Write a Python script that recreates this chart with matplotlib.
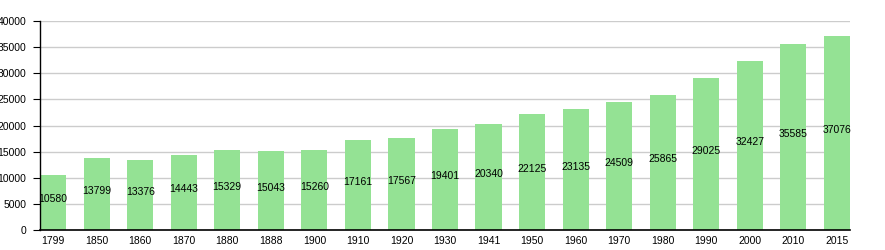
import matplotlib.pyplot as plt
import numpy as np

years = ["1799", "1850", "1860", "1870", "1880", "1888", "1900", "1910", "1920", "1930",
         "1941", "1950", "1960", "1970", "1980", "1990", "2000", "2010", "2015"]
population = [10580, 13799, 13376, 14443, 15329, 15043, 15260, 17161, 17567, 19401,
              20340, 22125, 23135, 24509, 25865, 29025, 32427, 35585, 37076]
y_ticks = [0, 5000, 10000, 15000, 20000, 25000, 30000, 35000, 40000]

plt.rcParams['font.family'] = ['Liberation Sans', 'DejaVu Sans']

fig = plt.figure(figsize=(8.85, 2.5), dpi=100)
ax = fig.add_axes([40 / 885, 20 / 250, 810 / 885, 209 / 250])

x = np.arange(len(years))
ax.bar(x, population, width=0.6, color="#94e294", zorder=2)

for xi, v in zip(x, population):
    ax.text(xi, v / 2, str(v), ha="center", va="baseline", fontsize=7.5, color="black", zorder=3)

ax.set_xlim(-0.3, len(years) - 0.7)
ax.set_ylim(0, 40000)
ax.set_xticks(x)
ax.set_xticklabels(years)
ax.set_yticks(y_ticks)
ax.set_yticklabels([str(t) for t in y_ticks])
ax.tick_params(axis="x", length=0, pad=4, labelsize=7.5)
ax.tick_params(axis="y", length=5, width=0.8, pad=5, labelsize=7.5)

ax.grid(axis="y", color="#cccccc", linewidth=1, zorder=0)
ax.spines["top"].set_visible(False)
ax.spines["right"].set_visible(False)
ax.spines["left"].set_color("black")
ax.spines["bottom"].set_color("black")
ax.spines["left"].set_linewidth(1)
ax.spines["bottom"].set_linewidth(1.2)

fig.savefig("out.png", dpi=100)
